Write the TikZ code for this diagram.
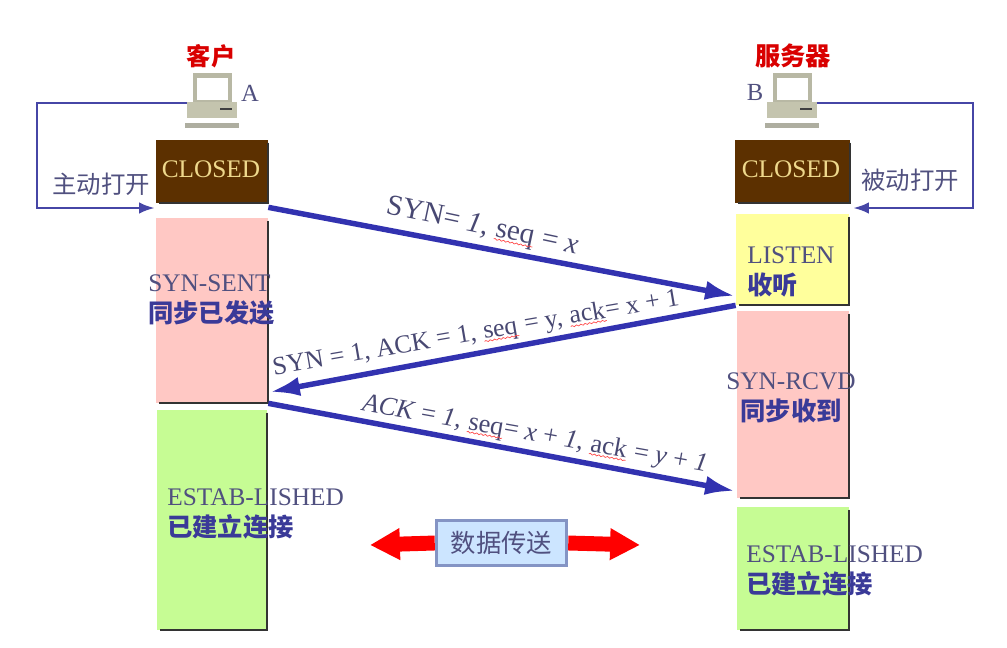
\documentclass[tikz,border=0pt]{standalone}
\usepackage{fontspec}
\setmainfont{Liberation Serif}
\newfontfamily\cjk{Noto Sans CJK SC}
\usetikzlibrary{arrows.meta,decorations.pathmorphing}
\definecolor{ink}{HTML}{50507F}
\definecolor{deep}{HTML}{3A3A98}
\definecolor{wire}{HTML}{4646A6}
\definecolor{shaft}{HTML}{3232B0}
\definecolor{brown}{HTML}{5C3000}
\definecolor{sand}{HTML}{EED88C}
\definecolor{rose}{HTML}{FFC8C4}
\definecolor{lime}{HTML}{C6FC94}
\definecolor{butter}{HTML}{FFFF9C}
\definecolor{frame}{HTML}{B8B8A4}
\definecolor{case}{HTML}{C4C4AE}
\definecolor{foot}{HTML}{AEAEA0}
\definecolor{pale}{HTML}{CCE5FF}
\definecolor{rim}{HTML}{8494C4}
\newcommand\wavy[1]{\tikz[baseline=(w.base)]{\node[inner sep=0pt] (w) {#1};\draw[red!70,line width=.4pt,decorate,decoration={snake,amplitude=.4pt,segment length=2.5pt}] ([yshift=-1.5pt]w.base west)--([yshift=-1.5pt]w.base east);}}
\tikzset{
	statebox/.style={inner sep=0pt},
	edge/.style={line width=1.2pt,black!80},
	statetext/.style={inner sep=0pt,align=left,text=ink,font=\fontsize{14.4}{17.6}\selectfont},
	msgtext/.style={inner sep=0pt,text=ink!90!black},
	titletext/.style={text=red!85!black},
	thin wire/.style={line width=1.6pt,wire,-{Latex[length=9pt,width=6.5pt]}},
	msg/.style={line width=3.1pt,shaft,-{Latex[length=17pt,width=11pt]}},
	flow/.style={line width=8.5pt,red,-{Triangle[length=17pt,width=17pt]}},
	pc/.pic={
		\fill[foot] (-27,23) rectangle (27,28);
		\fill[case] (-25,2) rectangle (25,18);
		\fill[frame] (-19,-27) rectangle (20,2);
		\fill[white] (-15,-22) rectangle (16,0);
		\fill[black!75] (8,8) rectangle (20,10);
	}
}
\begin{document}
\begin{tikzpicture}[x=.2mm,y=-.2mm]
	\useasboundingbox (0,0) rectangle (1007,647);
	\path
	(212,100) pic {pc}
	(792,100) pic {pc}
	(187,103) coordinate (openA)
	(37,103) coordinate (wireA)
	(155,208) coordinate (inA)
	(817,103) coordinate (openB)
	(973,103) coordinate (wireB)
	(853,208) coordinate (inB)
	(735,296) coordinate (synEnd)
	(270,392) coordinate (ackEnd)
	(735,491) coordinate (estEnd)
	(370,545) coordinate (flowL)
	(640,545) coordinate (flowR);
	% boxes
	\node[statebox,fill=brown,minimum width=22.4mm,minimum height=12.6mm] (closedA) at (212,171.5) {};
	\node[statebox,fill=rose,minimum width=22.4mm,minimum height=37mm] (sent) at (212,310.5) {};
	\node[statebox,fill=lime,minimum width=22mm,minimum height=44mm] (estA) at (212,520) {};
	\node[statebox,fill=brown,minimum width=23mm,minimum height=12.6mm] (closedB) at (792.5,171.5) {};
	\node[statebox,fill=butter,minimum width=22.6mm,minimum height=18.2mm] (listen) at (792.5,259.5) {};
	\node[statebox,fill=rose,minimum width=22.4mm,minimum height=37.4mm] (rcvd) at (793,404.5) {};
	\node[statebox,fill=lime,minimum width=22.4mm,minimum height=24.6mm] (estB) at (793,568.5) {};
	\foreach \hop in {closedA,sent,estA,closedB,listen,rcvd,estB}
		\draw[edge] ([yshift=-.6mm]\hop.north east)--(\hop.south east)--([xshift=.6mm]\hop.south west);
	% labels
	\node[text=sand,font=\fontsize{14.4}{17}\selectfont] (txtA) at (211,169) {CLOSED};
	\node[text=sand,font=\fontsize{14.4}{17}\selectfont] (txtB) at (791,169) {CLOSED};
	\node[titletext,font=\cjk\bfseries\fontsize{13.8}{16}\selectfont] (client) at (211,56) {客户};
	\node[titletext,font=\cjk\bfseries\fontsize{14.4}{16}\selectfont] (server) at (793,56) {服务器};
	\node[text=ink,font=\fontsize{14}{16}\selectfont] (nameA) at (250,93) {A};
	\node[text=ink,font=\fontsize{14}{16}\selectfont] (nameB) at (755,92) {B};
	\node[text=ink,font=\cjk\fontsize{13.9}{16}\selectfont] (actA) at (101,184) {主动打开};
	\node[text=ink,font=\cjk\fontsize{13.9}{16}\selectfont] (actB) at (910,180) {被动打开};
	\node[statetext,anchor=west] (lblSent) at (148,300) {SYN-SENT\\{\cjk\bfseries\color{deep}同步已发送}};
	\node[statetext,anchor=west] (lblListen) at (747,272) {LISTEN\\{\cjk\bfseries\color{deep}收听}};
	\node[statetext,align=center] (lblRcvd) at (791,398) {SYN-RCVD\\{\cjk\bfseries\color{deep}同步收到}};
	\node[statetext,anchor=west] (lblEstA) at (167,514) {ESTAB-LISHED\\{\cjk\bfseries\color{deep}已建立连接}};
	\node[statetext,anchor=west] (lblEstB) at (746,571) {ESTAB-LISHED\\{\cjk\bfseries\color{deep}已建立连接}};
	% connectors
	\draw[thin wire] (openA)--(wireA)|-(inA);
	\draw[thin wire] (openB)--(wireB)|-(inB);
	\draw[msg] (closedA.south east)+(0,4)--(synEnd);
	\draw[msg] (listen.south west)--(ackEnd);
	\draw[msg] (sent.south east)--(estEnd);
	\node[msgtext,rotate=-12,font=\fontsize{16.6}{19}\selectfont] (synTxt) at (482,227) {SYN= \textit{1}, \wavy{seq} = \textit{x}};
	\node[msgtext,rotate=9.8,font=\fontsize{14.7}{17}\selectfont] (ackTxt) at (476,334) {SYN = 1, ACK = 1, \wavy{seq} = y, \wavy{ack}= x + 1};
	\node[msgtext,rotate=-10.2,font=\fontsize{15}{17}\selectfont] (estTxt) at (535,435) {\textit{ACK} = \textit{1}, \wavy{seq}= \textit{x} + \textit{1}, \wavy{ack} = \textit{y} + \textit{1}};
	\node[statebox,draw=rim,line width=2pt,fill=pale,minimum width=26mm,minimum height=9mm,text=ink,font=\cjk\fontsize{14.4}{17}\selectfont] (data) at (501.5,543) {数据传送};
	\draw[flow] (data.west)--(flowL);
	\draw[flow] (data.east)--(flowR);
\end{tikzpicture}
\end{document}
